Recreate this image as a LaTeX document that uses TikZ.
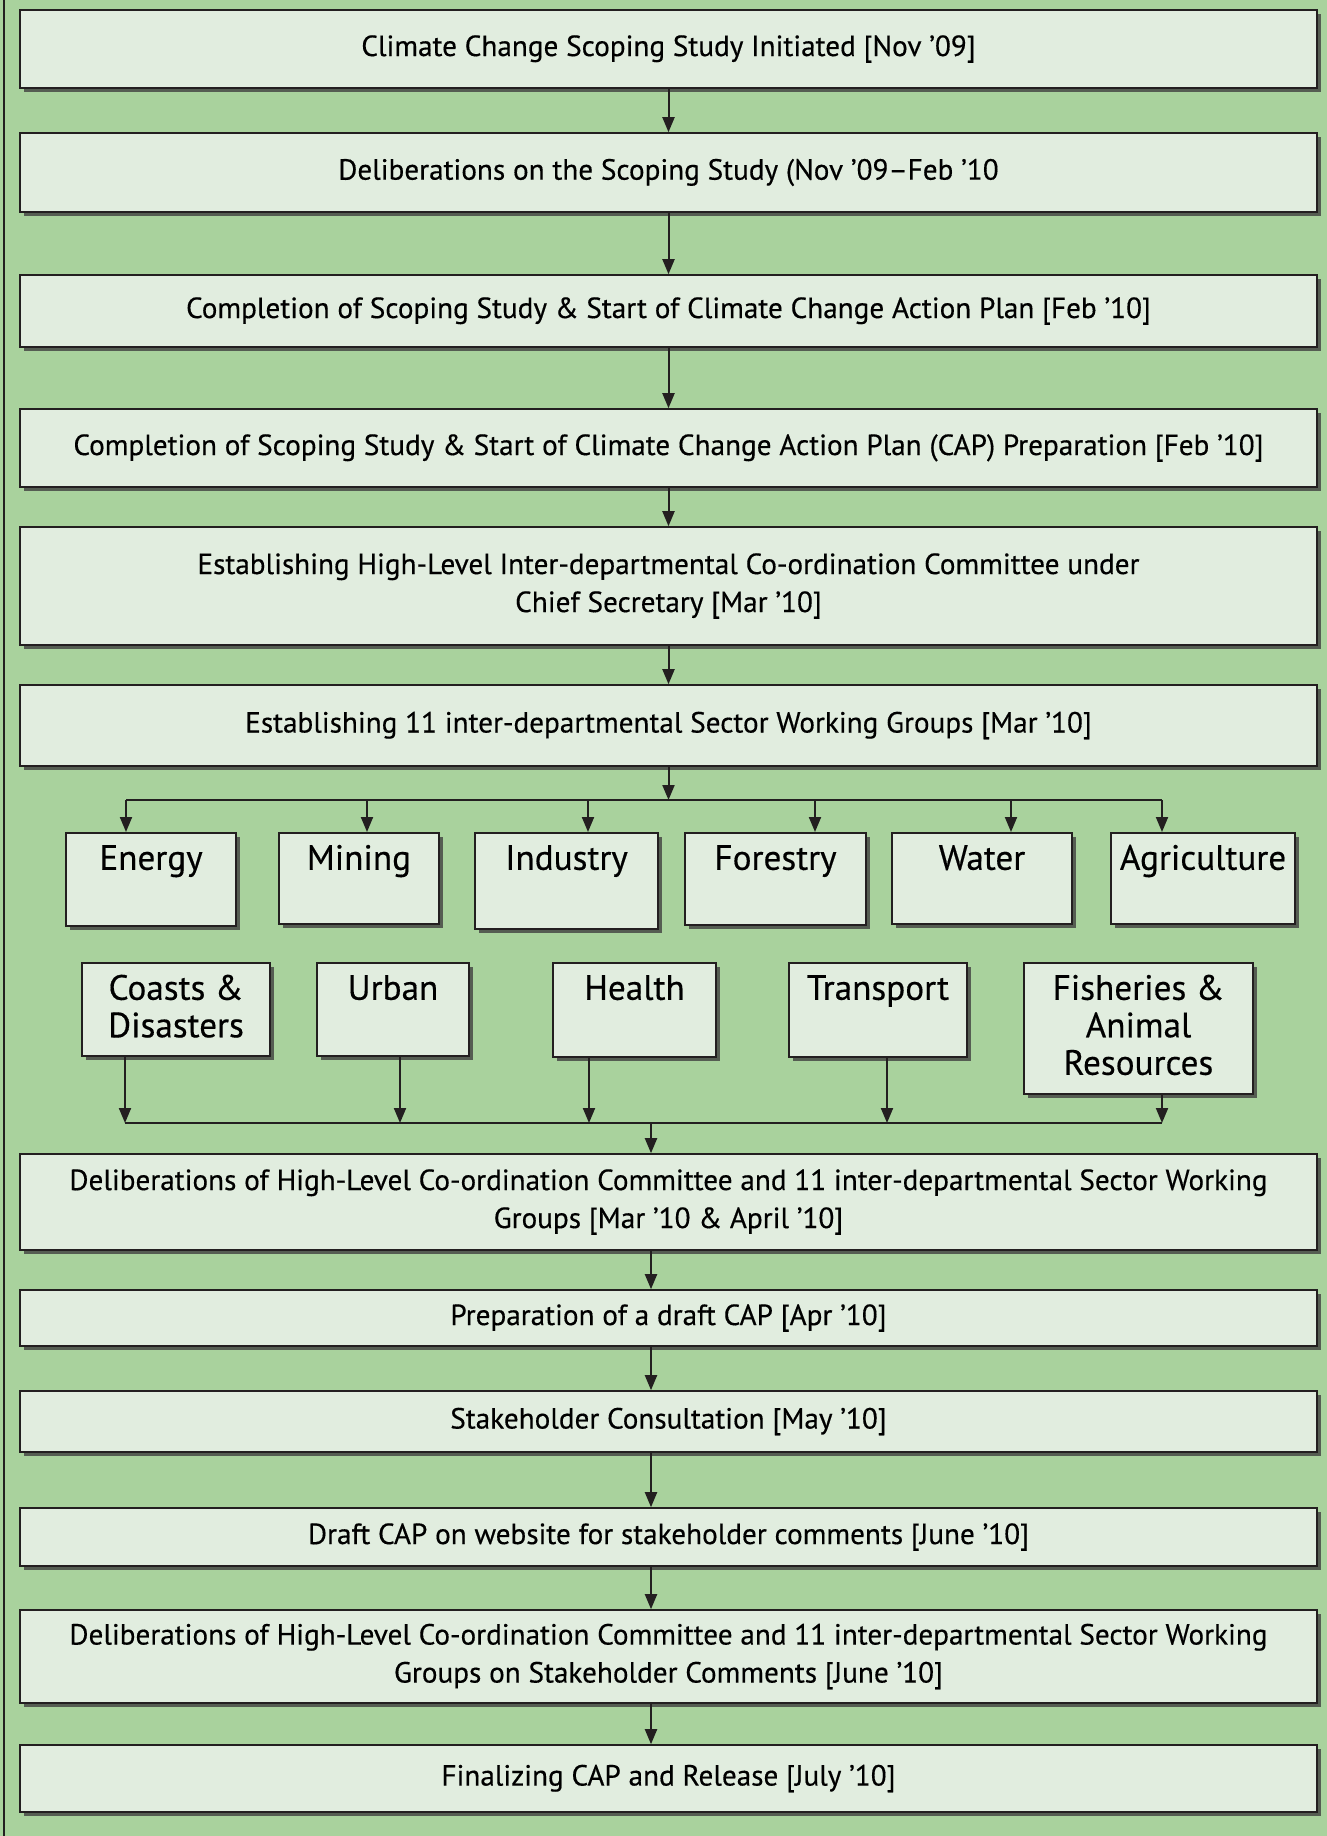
\documentclass[tikz,border=0pt]{standalone}
\usepackage{fontspec}
\setmainfont{PT Sans}[FakeBold=0.4]
\definecolor{CAPbg}{HTML}{A9D29D}
\definecolor{CAPbox}{HTML}{E1EDDF}
\definecolor{CAPink}{HTML}{231F20}
\usetikzlibrary{arrows.meta, shadows}

\begin{document}
\begin{tikzpicture}[x=0.5pt, y=-0.5pt,
   boxshadow/.style={drop shadow={shadow xshift=2pt, shadow yshift=-2pt, opacity=0.8, fill=black!75}},
   stage/.style={draw=CAPink, line width=0.8pt, fill=CAPbox, align=flush center,
      minimum width=648.5pt, font=\fontsize{14.6}{19}\selectfont, boxshadow},
   sector/.style={draw=CAPink, line width=0.8pt, fill=CAPbox, anchor=north, inner sep=0pt,
      align=flush center, text height=18.5pt, font=\fontsize{17.6}{18.75}\selectfont, boxshadow},
   link/.style={CAPink, line width=1pt},
   arr/.style={link, -{Triangle[length=7.5pt, width=6pt]}}]
   \useasboundingbox (0,0) rectangle (1327,1836);
   \fill[CAPbg] (0,0) rectangle (1327,1836);
   \draw[CAPink, line width=1.25pt] (4,0) -- (4,1836);

   % upper chain of stages
   \node[stage, minimum height=39pt] (s1) at (668.5,49) {Climate Change Scoping Study Initiated [Nov ’09]};
   \node[stage, minimum height=39.5pt] (s2) at (668.5,172.5) {Deliberations on the Scoping Study (Nov ’09–Feb ’10};
   \node[stage, minimum height=36pt] (s3) at (668.5,311) {Completion of Scoping Study \& Start of Climate Change Action Plan [Feb ’10]};
   \node[stage, minimum height=39pt] (s4) at (668.5,448) {Completion of Scoping Study \& Start of Climate Change Action Plan (CAP) Preparation [Feb ’10]};
   \node[stage, minimum height=59pt] (s5) at (668.5,586) {Establishing High-Level Inter-departmental Co-ordination Committee under\\ Chief Secretary [Mar ’10]};
   \node[stage, minimum height=40.5pt] (s6) at (668.5,725.5) {Establishing 11 inter-departmental Sector Working Groups [Mar ’10]};
   \draw[arr] (s1) -- (s2);
   \draw[arr] (s2) -- (s3);
   \draw[arr] (s3) -- (s4);
   \draw[arr] (s4) -- (s5);
   \draw[arr] (s5) -- (s6);

   % sector working groups
   \node[sector, text width=85pt, text depth=28pt] (energy) at (151,832) {Energy};
   \node[sector, text width=80pt, text depth=27pt] (mining) at (359,832) {Mining};
   \node[sector, text width=91.5pt, text depth=29.5pt] (industry) at (566.5,832) {Industry};
   \node[sector, text width=90.5pt, text depth=27.5pt] (forestry) at (775.5,832) {Forestry};
   \node[sector, text width=90pt, text depth=27pt] (water) at (982,832) {Water};
   \node[sector, text width=92pt, text depth=27pt] (agri) at (1203,832) {Agriculture};
   \node[sector, text width=94pt, text depth=28pt] (coasts) at (176,962) {Coasts \&\\ Disasters};
   \node[sector, text width=76pt, text depth=28pt] (urban) at (393,962) {Urban};
   \node[sector, text width=81.5pt, text depth=28.5pt] (health) at (634.5,962) {Health};
   \node[sector, text width=89pt, text depth=28.5pt] (transport) at (878,962) {Transport};
   \node[sector, text width=114.5pt, text depth=47pt] (fish) at (1138.5,962) {Fisheries \&\\ Animal\\ Resources};

   % split into the sectors
   \coordinate (b1) at (126,800);
   \coordinate (b2) at (367,800);
   \coordinate (b3) at (588,800);
   \coordinate (b4) at (815,800);
   \coordinate (b5) at (1011,800);
   \coordinate (b6) at (1162,800);
   \draw[arr] (s6.south) -- (s6.south |- b1);
   \draw[link] (b1) -- (b6);
   \draw[arr] (b1) -- (b1 |- energy.north);
   \draw[arr] (b2) -- (b2 |- mining.north);
   \draw[arr] (b3) -- (b3 |- industry.north);
   \draw[arr] (b4) -- (b4 |- forestry.north);
   \draw[arr] (b5) -- (b5 |- water.north);
   \draw[arr] (b6) -- (b6 |- agri.north);

   % merge back
   \coordinate (m1) at (125,1123);
   \coordinate (m2) at (400,1123);
   \coordinate (m3) at (589,1123);
   \coordinate (m4) at (887,1123);
   \coordinate (m5) at (1162,1123);
   \coordinate (mj) at (651,1123);
   \draw[link] (m1) -- (m5);
   \draw[arr] (m1 |- coasts.south) -- (m1);
   \draw[arr] (m2 |- urban.south) -- (m2);
   \draw[arr] (m3 |- health.south) -- (m3);
   \draw[arr] (m4 |- transport.south) -- (m4);
   \draw[arr] (m5 |- fish.south) -- (m5);

   % lower chain of stages
   \node[stage, minimum height=48pt] (d1) at (668.5,1202) {Deliberations of High-Level Co-ordination Committee and 11 inter-departmental Sector Working\\ Groups [Mar ’10 \& April ’10]};
   \node[stage, minimum height=28pt] (p1) at (668.5,1318) {Preparation of a draft CAP [Apr ’10]};
   \node[stage, minimum height=30.5pt] (c1) at (668.5,1421.5) {Stakeholder Consultation [May ’10]};
   \node[stage, minimum height=29pt] (w1) at (668.5,1537) {Draft CAP on website for stakeholder comments [June ’10]};
   \node[stage, minimum height=46.5pt] (d2) at (668.5,1656.5) {Deliberations of High-Level Co-ordination Committee and 11 inter-departmental Sector Working\\ Groups on Stakeholder Comments [June ’10]};
   \node[stage, minimum height=33.5pt] (f1) at (668.5,1778.5) {Finalizing CAP and Release [July ’10]};
   \draw[arr] (mj) -- (mj |- d1.north);
   \draw[arr] (d1.south -| mj) -- (p1.north -| mj);
   \draw[arr] (p1.south -| mj) -- (c1.north -| mj);
   \draw[arr] (c1.south -| mj) -- (w1.north -| mj);
   \draw[arr] (w1.south -| mj) -- (d2.north -| mj);
   \draw[arr] (d2.south -| mj) -- (f1.north -| mj);
\end{tikzpicture}
\end{document}
